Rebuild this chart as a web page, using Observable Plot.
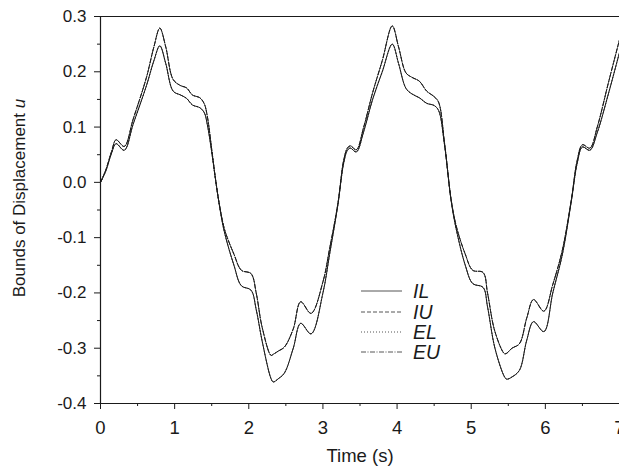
<!DOCTYPE html>
<html>
<head>
<meta charset="utf-8">
<script src="https://cdn.jsdelivr.net/npm/d3@7"></script>
<script src="https://cdn.jsdelivr.net/npm/@observablehq/plot@0.6"></script>
<style>
  html, body { margin: 0; padding: 0; background: #fff; }
  #wrap { position: relative; width: 619px; height: 475px; overflow: hidden; }
  #legend { position: absolute; left: 0; top: 0; pointer-events: none; }
</style>
</head>
<body>
<div id="wrap"></div>
<script>
// Time samples (s)
const time = [0, 0.07, 0.15, 0.21, 0.32, 0.44, 0.62, 0.72, 0.80, 0.88, 0.98, 1.08, 1.16, 1.24, 1.34, 1.40,
  1.44, 1.50, 1.557, 1.61, 1.675, 1.80, 1.90, 2.03, 2.10, 2.18, 2.30, 2.33, 2.40, 2.48, 2.60, 2.70, 2.84,
  3.00, 3.09, 3.20, 3.28, 3.33, 3.37, 3.45, 3.55, 3.67, 3.80, 3.935, 4.02, 4.12, 4.20, 4.30, 4.40, 4.50,
  4.56, 4.64, 4.73, 4.80, 4.92, 5.02, 5.16, 5.22, 5.32, 5.45, 5.48, 5.55, 5.65, 5.75, 5.84, 5.98, 6.10,
  6.23, 6.35, 6.43, 6.50, 6.60, 6.70, 6.85, 7.0];
// Upper bound (IU = EU)
const upper = [0, 0.022, 0.056, 0.077, 0.065, 0.114, 0.19, 0.245, 0.279, 0.245, 0.186, 0.175, 0.171, 0.158, 0.153, 0.142,
  0.12, 0.06, 0.0, -0.045, -0.086, -0.13, -0.159, -0.165, -0.2, -0.262, -0.313, -0.311, -0.305, -0.298, -0.265, -0.216, -0.237,
  -0.18, -0.12, -0.04, 0.04, 0.062, 0.066, 0.059, 0.1, 0.162, 0.22, 0.283, 0.245, 0.198, 0.19, 0.183, 0.165, 0.155,
  0.145, 0.071, -0.032, -0.08, -0.13, -0.159, -0.163, -0.2, -0.27, -0.31, -0.309, -0.3, -0.292, -0.245, -0.212, -0.233, -0.185,
  -0.122, -0.032, 0.04, 0.068, 0.062, 0.1, 0.18, 0.258];
// Lower bound (IL = EL)
const lower = [0, 0.02, 0.053, 0.07, 0.058, 0.105, 0.175, 0.22, 0.247, 0.215, 0.165, 0.158, 0.152, 0.14, 0.135, 0.126,
  0.105, 0.055, 0.0, -0.047, -0.092, -0.15, -0.187, -0.195, -0.23, -0.287, -0.355, -0.361, -0.355, -0.345, -0.3, -0.255, -0.274,
  -0.2, -0.13, -0.042, 0.035, 0.058, 0.062, 0.055, 0.092, 0.15, 0.2, 0.25, 0.215, 0.17, 0.16, 0.153, 0.143, 0.139,
  0.13, 0.068, -0.034, -0.086, -0.15, -0.183, -0.19, -0.225, -0.3, -0.352, -0.356, -0.352, -0.34, -0.285, -0.252, -0.27, -0.2,
  -0.13, -0.034, 0.035, 0.064, 0.058, 0.09, 0.16, 0.235];

const xTicks = [0, 1, 2, 3, 4, 5, 6, 7];
const xMinor = [0.5, 1.5, 2.5, 3.5, 4.5, 5.5, 6.5];
const yTicks = [-0.4, -0.3, -0.2, -0.1, 0.0, 0.1, 0.2, 0.3];
const yMinor = [-0.35, -0.25, -0.15, -0.05, 0.05, 0.15, 0.25];
const seriesNames = ["IL", "IU", "EL", "EU"];
const seriesSource = {IL: lower, IU: upper, EL: lower, EU: upper};
const dashStyle = {IL: null, IU: "4,2", EL: "1,2", EU: "5,1.5,1,1.5"};

const font = "'Liberation Sans', Arial, Helvetica, sans-serif";
const ink = "#1a1a1a";

const seriesMarks = seriesNames.map(name => {
  const src = seriesSource[name];
  const rows = time.map((t, i) => ({t, u: src[i]}));
  return Plot.line(rows, {x: "t", y: "u", curve: "catmull-rom", stroke: ink, strokeWidth: 1,
    strokeDasharray: dashStyle[name] || undefined, clip: true});
});

const chart = Plot.plot({
  width: 619, height: 475,
  marginLeft: 100, marginRight: 0, marginTop: 16, marginBottom: 72,
  style: {fontFamily: font, fontSize: "18px", color: ink, background: "#fff", overflow: "visible"},
  x: {domain: [0, 7]},
  y: {domain: [-0.4, 0.3]},
  marks: [
    Plot.axisX({ticks: xTicks, tickSize: 6, tickPadding: 11, tickFormat: d => String(d),
      label: "Time (s)", labelAnchor: "center", labelArrow: "none", labelOffset: 58, fontSize: 18.5}),
    Plot.axisX({ticks: xMinor, tickSize: 3, tickFormat: () => "", label: null}),
    Plot.axisY({ticks: yTicks, tickSize: 6, tickPadding: 8, tickFormat: d => d.toFixed(1),
      label: "Bounds of Displacement u", labelAnchor: "center", labelArrow: "none", labelOffset: 88, fontSize: 17}),
    Plot.axisY({ticks: yMinor, tickSize: 3, tickFormat: () => "", label: null}),
    Plot.ruleX([0], {stroke: ink, strokeWidth: 1.2}),
    Plot.ruleY([-0.4], {stroke: ink, strokeWidth: 1.2}),
    Plot.ruleY([0.3], {stroke: ink, strokeWidth: 1.2}),
    ...seriesMarks
  ]
});

// y label: shift up slightly, italic "u"
d3.select(chart).selectAll("g[aria-label='y-axis label'] text").each(function() {
  const t = d3.select(this);
  const txt = t.text();
  t.attr("dx", 12);
  if (txt.endsWith(" u")) {
    t.text(null);
    t.append("tspan").text(txt.slice(0, -1));
    t.append("tspan").attr("font-style", "italic").text("u");
  }
});

const wrap = document.getElementById("wrap");
wrap.appendChild(chart);

// legend overlay
const lg = d3.select(wrap).append("svg").attr("id", "legend").attr("width", 619).attr("height", 475);
const rowY = [291, 312, 332, 352];
seriesNames.forEach((name, i) => {
  lg.append("line").attr("x1", 361).attr("x2", 402).attr("y1", rowY[i]).attr("y2", rowY[i])
    .attr("stroke", "#555").attr("stroke-width", 1)
    .attr("stroke-dasharray", dashStyle[name] || null);
  lg.append("text").attr("x", 413).attr("y", rowY[i]).attr("dy", "0.36em")
    .attr("font-family", font).attr("font-size", 19.5).attr("font-style", "italic")
    .attr("fill", ink).text(name);
});
</script>
</body>
</html>
